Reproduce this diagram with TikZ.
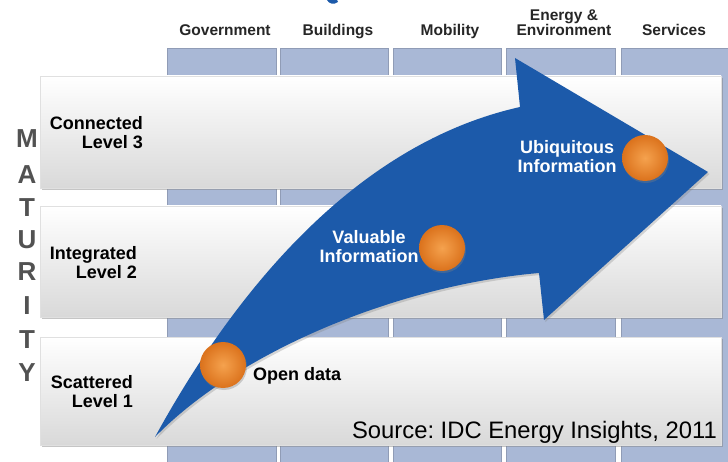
\documentclass[tikz,border=0pt]{standalone}
\usepackage{fontspec}
\setmainfont{Liberation Sans}
\usetikzlibrary{shadows}
\frenchspacing

\definecolor{colblue}{HTML}{A9B8D6}
\definecolor{arrowblue}{HTML}{1C5AAA}
\definecolor{dotlight}{HTML}{F5A24E}
\definecolor{dotdark}{HTML}{DB721C}

\tikzset{
	column/.style={fill=colblue, draw=colblue!85!black, line width=0.5pt},
	panel/.style={top color=white, bottom color=black!15, draw=black!12,
		drop shadow={shadow xshift=1.5pt, shadow yshift=-2pt, opacity=0.45}},
	dot/.style={circle, minimum size=46pt, inner sep=0pt, shading=radial,
		inner color=dotlight, outer color=dotdark,
		drop shadow={shadow xshift=1pt, shadow yshift=-2pt, opacity=0.35}},
	header/.style={font=\fontsize{15.5}{15.5}\bfseries, text=black!85, align=center, anchor=base, inner sep=0pt},
	levellabel/.style={font=\fontsize{18}{19.5}\bfseries, align=right, anchor=east, inner sep=0pt},
	steplabel/.style={font=\fontsize{18}{19}\bfseries, text=white, align=center, inner sep=0pt},
	maturity/.style={font=\fontsize{26}{26}\bfseries, text=black!68, inner sep=0pt}
}

\begin{document}
\begin{tikzpicture}[x=1pt, y=-1pt]
	\useasboundingbox[fill=white] (0,0) rectangle (728,462);

	% domain columns behind the levels
	\foreach \xa/\xb in {167/276, 280/388, 393/501, 506/615, 621/730}
		\draw[column] (\xa,48) rectangle (\xb,464);

	\node[header] (gov) at (225,36) {Government};
	\node[header] (bld) at (338,36) {Buildings};
	\node[header] (mob) at (450,36) {Mobility};
	\node[header] (env) at (564,36) {Energy \&\\Environment};
	\node[header] (serv) at (674,36) {Services};

	% level bands
	\draw[panel] (40,76) rectangle (721,188);
	\draw[panel] (40,206) rectangle (721,317);
	\draw[panel] (40,337) rectangle (721,445);

	\node[levellabel] (lvl3) at (143,132.5) {Connected\\Level 3};
	\node[levellabel] (lvl2) at (137,262.5) {Integrated\\Level 2};
	\node[levellabel] (lvl1) at (133,391.5) {Scattered\\Level 1};

	\foreach \ch/\yy [count=\i] in {M/139, A/175, T/208, U/240, R/272, I/306, T/340, Y/373}
		\node[maturity] (mat\i) at (27,\yy) {\ch};

	% big curved arrow
	\fill[arrowblue, drop shadow={shadow xshift=1.5pt, shadow yshift=-2pt, opacity=0.3}]
		(155,437) .. controls (230,300) and (350,145) .. (520,107)
		-- (515,58) -- (708,172) -- (544,320) -- (539,273)
		.. controls (400,285) and (240,350) .. cycle;
	\fill[arrowblue] (327,0) .. controls (329,4) and (334,5) .. (338,2) -- (337,0) -- cycle;

	\node[dot] (open) at (223,365) {};
	\node[dot] (valuable) at (442,248) {};
	\node[dot] (ubiq) at (645,158) {};

	\node[font=\fontsize{18}{19}\bfseries, anchor=base west, inner sep=0pt] (opentxt) at (253,380) {Open data};
	\node[steplabel] (valtxt) at (369,247) {Valuable\\Information};
	\node[steplabel] (ubiqtxt) at (567,156.5) {Ubiquitous\\Information};

	\node[font=\fontsize{23.8}{23.8}\selectfont, anchor=base east, inner sep=0pt] (src) at (717,438) {Source: IDC Energy Insights, 2011};
\end{tikzpicture}
\end{document}
